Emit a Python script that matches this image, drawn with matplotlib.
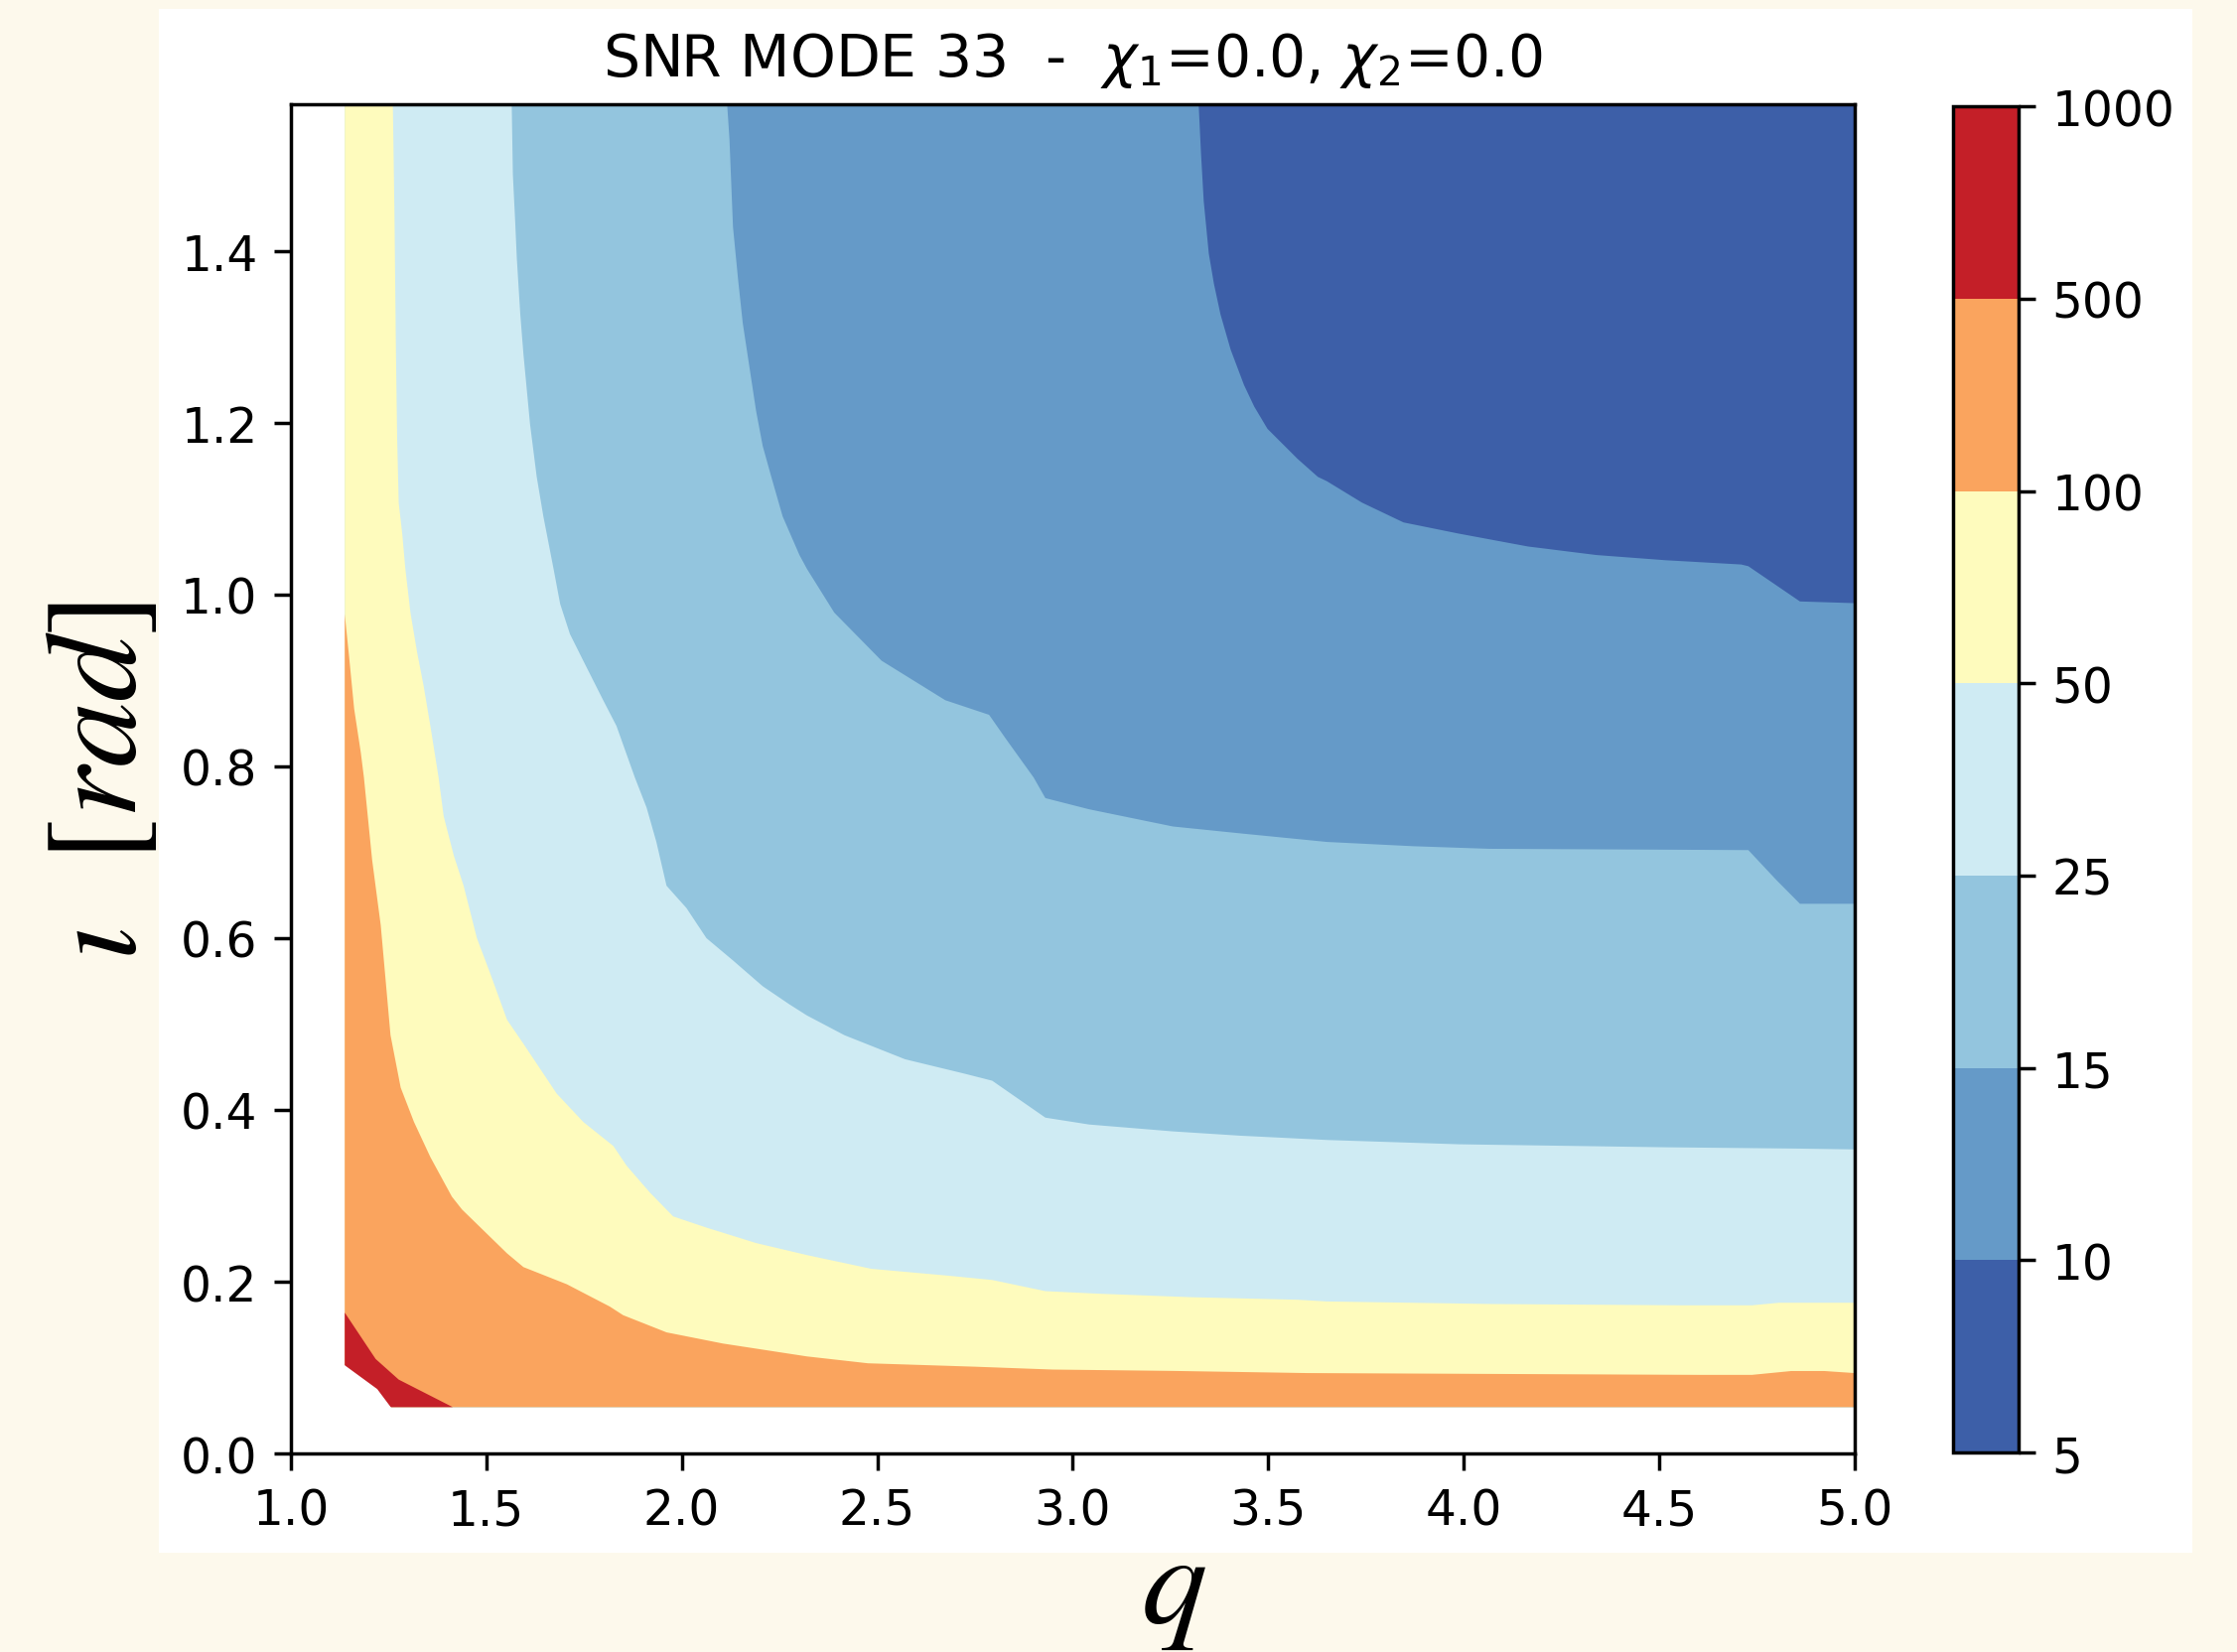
import matplotlib
matplotlib.use("Agg")
import matplotlib.pyplot as plt
from matplotlib.colors import ListedColormap, BoundaryNorm
from matplotlib.cm import ScalarMappable
from matplotlib.patches import Rectangle

# contour levels and band colours
levels = [5, 10, 15, 25, 50, 100, 500, 1000]
band_colors = ['#3d5fa8', '#659ac8', '#93c5de', '#cfebf3', '#fefbbd', '#faa45e', '#c41f28']

# extent of the data grid
q_min, q_max = 1.138, 5.0
iota_min, iota_max = 0.054, 1.5708

# contour lines (q, iota), one per level
bnd_10_q = [3.322, 3.328, 3.335, 3.348, 3.361, 3.378, 3.404, 3.438, 3.464, 3.498, 3.575, 3.627,
            3.65, 3.74, 3.846, 3.987, 4.164, 4.34, 4.516, 4.71, 4.728, 4.86, 5.0]
bnd_10_i = [1.571, 1.514, 1.458, 1.397, 1.362, 1.326, 1.285, 1.244, 1.219, 1.193, 1.158, 1.137,
            1.132, 1.107, 1.084, 1.071, 1.056, 1.046, 1.040, 1.035, 1.033, 0.992, 0.990]

bnd_15_q = [2.116, 2.122, 2.131, 2.144, 2.156, 2.173, 2.19, 2.207, 2.229, 2.258, 2.301, 2.32,
            2.39, 2.511, 2.674, 2.786, 2.829, 2.90, 2.93, 3.042, 3.256, 3.428, 3.65, 3.872,
            4.066, 4.728, 4.799, 4.86, 5.0]
bnd_15_i = [1.571, 1.530, 1.428, 1.367, 1.316, 1.265, 1.214, 1.173, 1.137, 1.091, 1.046, 1.03,
            0.979, 0.923, 0.877, 0.860, 0.832, 0.787, 0.763, 0.750, 0.730, 0.722, 0.712, 0.707,
            0.704, 0.7025, 0.668, 0.640, 0.640]

bnd_25_q = [1.565, 1.568, 1.574, 1.578, 1.587, 1.595, 1.612, 1.629, 1.646, 1.672, 1.689, 1.714,
            1.748, 1.799, 1.833, 1.88, 1.91, 1.935, 1.961, 2.012, 2.063, 2.131, 2.207, 2.275,
            2.32, 2.416, 2.571, 2.725, 2.794, 2.93, 3.042, 3.256, 3.428, 3.65, 3.987, 4.516,
            4.851, 5.0]
bnd_25_i = [1.571, 1.489, 1.433, 1.392, 1.326, 1.280, 1.198, 1.137, 1.091, 1.030, 0.989, 0.954,
            0.923, 0.877, 0.847, 0.787, 0.752, 0.712, 0.661, 0.635, 0.600, 0.574, 0.544, 0.523,
            0.510, 0.487, 0.459, 0.442, 0.434, 0.391, 0.383, 0.375, 0.370, 0.365, 0.360, 0.3565,
            0.355, 0.354]

bnd_50_q = [1.261, 1.265, 1.269, 1.272, 1.276, 1.285, 1.293, 1.306, 1.323, 1.34, 1.357, 1.378,
            1.391, 1.417, 1.442, 1.476, 1.51, 1.553, 1.595, 1.68, 1.748, 1.825, 1.859, 1.918,
            1.978, 2.063, 2.19, 2.32, 2.485, 2.682, 2.794, 2.93, 3.068, 3.30, 3.575, 3.65,
            4.075, 4.56, 4.737, 4.807, 5.0]
bnd_50_i = [1.571, 1.448, 1.280, 1.183, 1.107, 1.071, 1.030, 0.979, 0.933, 0.893, 0.847, 0.787,
            0.742, 0.696, 0.661, 0.600, 0.559, 0.505, 0.477, 0.419, 0.386, 0.358, 0.335, 0.304,
            0.276, 0.263, 0.245, 0.231, 0.215, 0.207, 0.202, 0.189, 0.186, 0.182, 0.179, 0.177,
            0.174, 0.1725, 0.1725, 0.1755, 0.1755]

bnd_100_q = [1.138, 1.149, 1.162, 1.179, 1.187, 1.208, 1.23, 1.255, 1.281, 1.315, 1.357, 1.412,
             1.438, 1.553, 1.595, 1.706, 1.816, 1.85, 1.961, 2.105, 2.32, 2.476, 2.751, 2.948,
             3.258, 3.60, 4.605, 4.737, 4.838, 4.922, 5.0]
bnd_100_i = [0.977, 0.928, 0.867, 0.816, 0.787, 0.691, 0.615, 0.487, 0.426, 0.386, 0.345, 0.299,
             0.284, 0.233, 0.217, 0.197, 0.171, 0.161, 0.141, 0.128, 0.113, 0.105, 0.101, 0.0977,
             0.0961, 0.0936, 0.0915, 0.0915, 0.096, 0.096, 0.0936]

bnd_500_q = [1.138, 1.217, 1.276, 1.414]
bnd_500_i = [0.164, 0.110, 0.086, 0.054]

bnd_1000_q = [1.138, 1.221, 1.272]
bnd_1000_i = [0.106, 0.075, 0.054]

xticks = [1.0, 1.5, 2.0, 2.5, 3.0, 3.5, 4.0, 4.5, 5.0]
yticks = [0.0, 0.2, 0.4, 0.6, 0.8, 1.0, 1.2, 1.4]
cbar_labels = ['5', '10', '15', '25', '50', '100', '500', '1000']

bounds = [(bnd_10_q, bnd_10_i), (bnd_15_q, bnd_15_i), (bnd_25_q, bnd_25_i),
          (bnd_50_q, bnd_50_i), (bnd_100_q, bnd_100_i), (bnd_500_q, bnd_500_i),
          (bnd_1000_q, bnd_1000_i)]


def region_above(qs, its, grow=0.0):
    # polygon of the area where SNR >= level (lower-left side of the line)
    # grow pushes the closing corners outside the grid so no edge shows through
    px = list(qs)
    py = list(its)
    if grow:
        px[0] -= grow
        py[-1] -= grow
    if abs(qs[-1] - q_max) < 1e-6:
        px.append(q_max)
        py.append(iota_min - grow)
    px.append(q_min - grow)
    py.append(iota_min - grow)
    if abs(its[0] - 1.571) < 0.01:
        px.append(q_min - grow)
        py.append(iota_max)
    return px, py


fig = plt.figure(figsize=(22.53, 16.65), dpi=100, facecolor='#fdf9ec')
fig.add_artist(Rectangle((0.071, 0.0601), 0.909, 0.9339, transform=fig.transFigure,
                         facecolor='white', edgecolor='none', zorder=-10))

ax = fig.add_axes([0.130, 0.1201, 0.6991, 0.8162])

# lowest band covers the whole grid, higher bands painted on top
ax.fill([q_min, q_max, q_max, q_min], [iota_min, iota_min, iota_max, iota_max],
        color=band_colors[0], lw=0)
for k, (qs, its) in enumerate(bounds):
    if k + 1 < len(band_colors):
        px, py = region_above(qs, its)
        ax.fill(px, py, color=band_colors[k + 1], lw=0)
    else:
        # above the top level contourf leaves the grid unfilled
        px, py = region_above(qs, its, grow=0.01)
        ax.fill(px, py, color='white', lw=0)

ax.set_xlim(1.0, 5.0)
ax.set_ylim(0.0, 1.5708)
ax.set_xticks(xticks)
ax.set_yticks(yticks)
ax.set_xticklabels([f'{t:.1f}' for t in xticks])
ax.set_yticklabels([f'{t:.1f}' for t in yticks])
ax.tick_params(labelsize=35, length=12, width=2.5, pad=12)
for s in ax.spines.values():
    s.set_linewidth(2.5)

ax.set_title(r'SNR MODE 33  -  $\chi_1$=0.0, $\chi_2$=0.0', fontsize=42, pad=21)

cax = fig.add_axes([0.873, 0.1207, 0.0294, 0.8143])
sm = ScalarMappable(norm=BoundaryNorm(levels, len(band_colors)), cmap=ListedColormap(band_colors))
cb = fig.colorbar(sm, cax=cax, ticks=levels, spacing='uniform')
cb.ax.set_yticklabels(cbar_labels)
cb.ax.tick_params(labelsize=35, length=12, width=2.5, pad=12)
cb.outline.set_linewidth(2.5)

fig.text(0.0444, 0.5275, r'$\iota\ \ [rad]$', rotation=90, ha='center', va='center',
         fontsize=95, math_fontfamily='stix')
fig.text(0.5246, 0.018, r'$q$', ha='center', va='baseline', fontsize=95, math_fontfamily='stix')

fig.savefig('out.png', dpi=100, facecolor=fig.get_facecolor())
